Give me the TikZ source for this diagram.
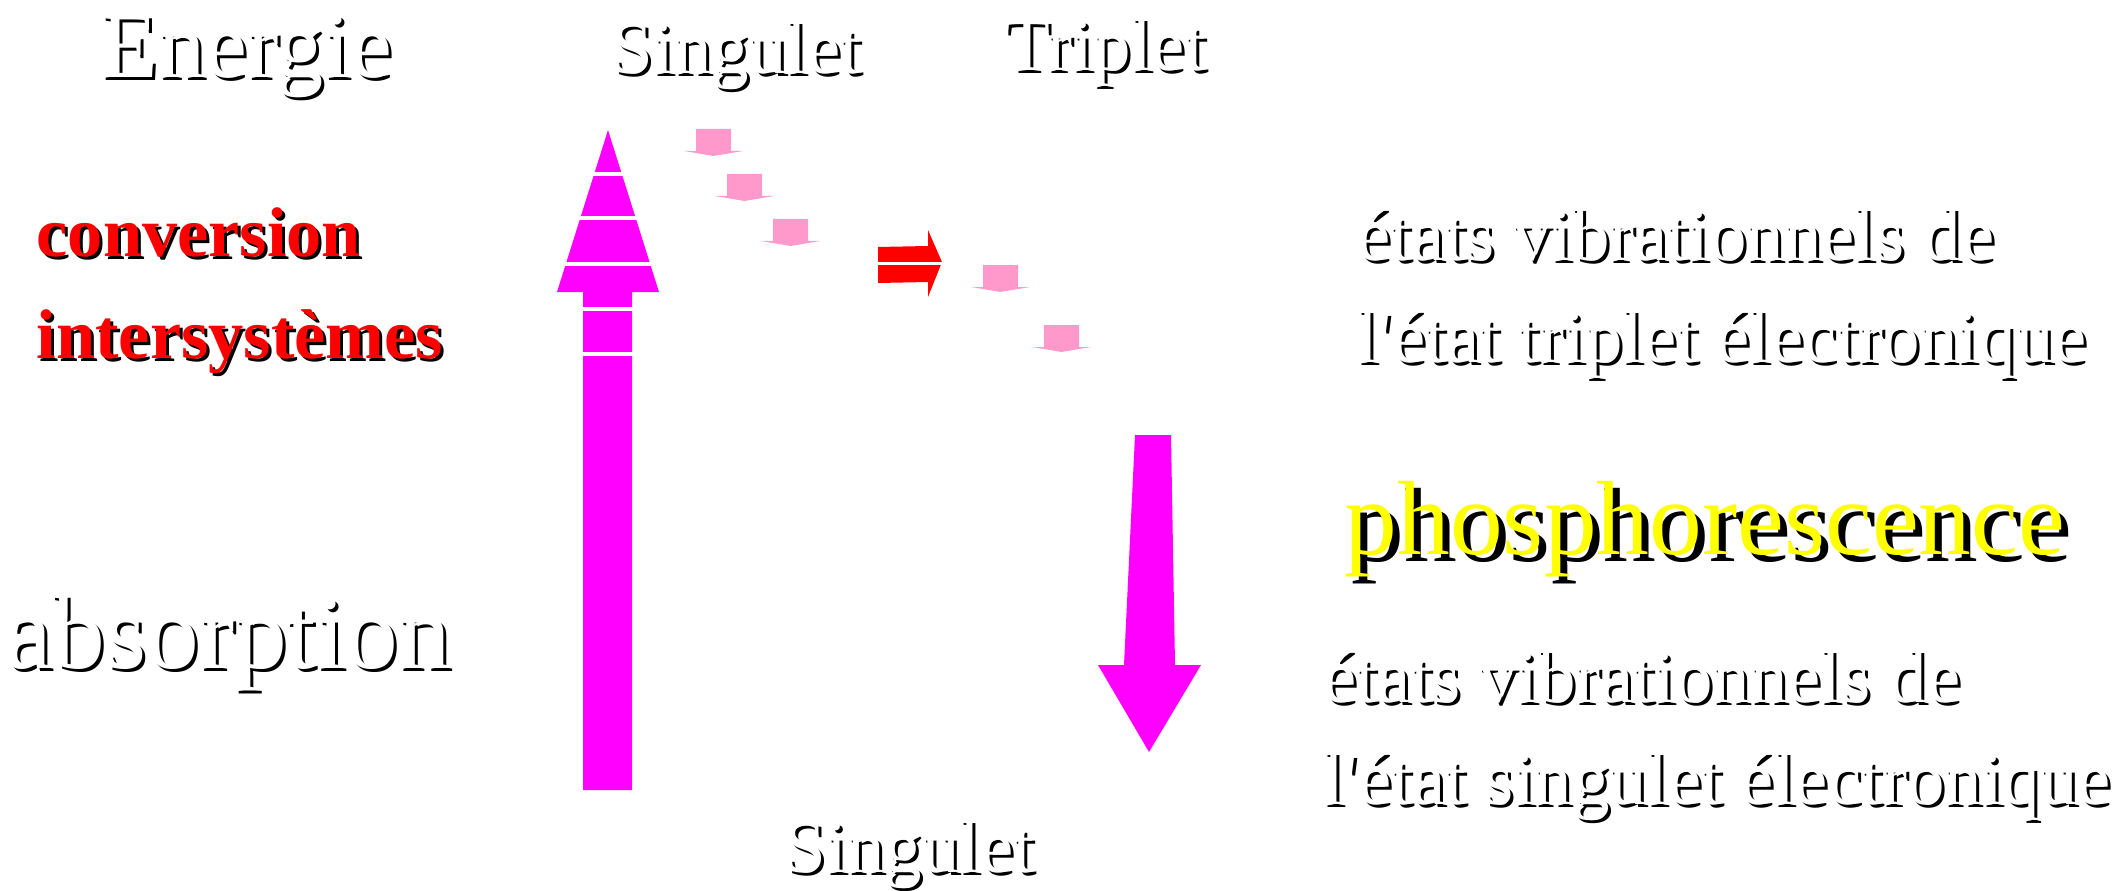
\documentclass[tikz,border=0pt]{standalone}
\usepackage{fontspec}
\setmainfont{Liberation Serif}[Ligatures=TeXOff]
\usepackage{tikz}
\usetikzlibrary{
  calc
}
\definecolor{jmagenta}{RGB}{255,0,255}
\definecolor{jpink}{RGB}{255,153,204}
\definecolor{jred}{RGB}{255,0,0}
\definecolor{jyellow}{RGB}{255,255,0}

% text with a black shadow: name, position, shadow offset, style, text
\newcommand{\shadowed}[5]{%
  \node[#4, text=black] (#1-shadow) at ($(#2)+(#3,#3)$) {#5};
  \node[#4] (#1) at (#2) {#5};
}

\begin{document}
\begin{tikzpicture}[
  x=0.01cm, y=-0.01cm,
  lbl/.style={anchor=base west, inner sep=0pt},
  title/.style={lbl, text=white, font=\fontsize{26.8}{32}\selectfont},
  state/.style={lbl, text=white, font=\fontsize{21.3}{26}\selectfont},
  big/.style={lbl, text=white, font=\fontsize{30}{36}\selectfont},
  isc/.style={lbl, text=jred, font=\bfseries\fontsize{20}{24}\selectfont},
  phos/.style={lbl, text=jyellow, font=\fontsize{30}{36}\selectfont},
  stripe/.style={white, line width=0.9pt}
]
  \useasboundingbox (0,0) rectangle (2118,891);

  % absorption arrow
  \fill[jmagenta] (583,790) -- (632,790) -- (632,292) -- (659,292) -- (608,130)
    -- (557,292) -- (583,292) -- cycle;
  \foreach \y in {174,218,264,309,354}
    \draw[stripe] (545,\y) -- (672,\y);

  % vibrational relaxation
  \foreach \x/\y in {696/129, 727/174, 773/219, 983/265, 1044/325}
    \fill[jpink] (\x,\y) -- ++(35,0) -- ++(0,22) -- ++(12,0) -- ++(-29.5,5)
      -- ++(-29.5,-5) -- ++(12,0) -- cycle;

  % intersystem crossing
  \fill[jred] (878,247) -- (928,246) -- (928,230) -- (942,262) -- (928,297)
    -- (928,282) -- (878,283) -- cycle;
  \draw[stripe] (872,263.5) -- (946,263.5);

  % phosphorescence arrow
  \fill[jmagenta] (1135,435) -- (1171,435) -- (1175,665) -- (1201,665)
    -- (1149,752) -- (1098,665) -- (1124,665) -- cycle;

  % labels
  \shadowed{energie}{100,78}{3}{title}{Energie}
  \shadowed{singtop}{611,74}{3}{state}{Singulet}
  \shadowed{triplet}{1004,71}{3}{state}{Triplet}
  \shadowed{singbot}{784,872}{3}{state}{Singulet}
  \shadowed{conv}{36,257}{3}{isc}{conversion}
  \shadowed{inter}{36,358}{3}{isc}{intersystèmes}
  \shadowed{absorb}{5,668}{3}{big}{absorption}
  \shadowed{vibT}{1357,261}{3}{state}{états vibrationnels de}
  \shadowed{elecT}{1357,362}{3}{state}{l'état triplet électronique}
  \shadowed{phos}{1344,554}{7}{phos}{phosphorescence}
  \shadowed{vibS}{1323,702}{3}{state}{états vibrationnels de}
  \shadowed{elecS}{1323,804}{3}{state}{l'état singulet électronique}
\end{tikzpicture}
\end{document}
